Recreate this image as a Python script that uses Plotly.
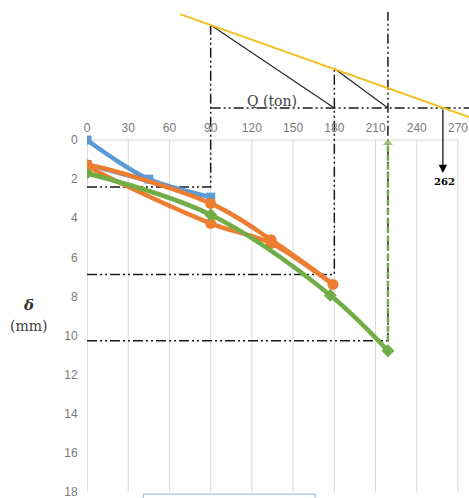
import plotly.graph_objects as go

# ---- data (Q in ton, settlement delta in mm) ----
q_ticks = [0, 30, 60, 90, 120, 150, 180, 210, 240, 270]
d_ticks = [0, 2, 4, 6, 8, 10, 12, 14, 16, 18]

blue_q = [0, 45, 90, 0]
blue_d = [0, 2.0, 2.92, 1.25]

orange_q = [0, 90, 134, 179, 134, 90, 0]
orange_d = [1.28, 3.24, 5.1, 7.38, 5.28, 4.26, 1.28]

green_q = [0, 90, 177, 219]
green_d = [1.7, 3.82, 7.93, 10.77]

# construction (Mazurkiewicz) lines
ref_q = [90, 180, 219]          # loads at equal settlements
ref_d = [2.4, 6.87, 10.26]      # equal settlement levels
ref_top = [-5.88, -3.66, -6.55] # top ends of the vertical projections
base_d = -1.64                  # horizontal load reference line
yellow_q = [67.7, 278]
yellow_d = [-6.44, -1.18]
diag1_q = [90, 180]
diag1_d = [-5.88, base_d]
diag2_q = [180, 219]
diag2_d = [-3.66, base_d]
q_ult_pos = 259
q_ult_label = "262"

X_MAX = 278
Y_TOP = -7.16
Y_BOT = 18.30

fig = go.Figure()

dashdot = "10px,3px,2px,3px,2px,3px"
for q, d, t in zip(ref_q, ref_d, ref_top):
    fig.add_trace(go.Scatter(x=[0, q, q], y=[d, d, t], mode="lines",
                             line=dict(color="#1a1a1a", width=1.5, dash=dashdot),
                             hoverinfo="skip"))
fig.add_trace(go.Scatter(x=[ref_q[0], X_MAX], y=[base_d, base_d], mode="lines",
                         line=dict(color="#1a1a1a", width=1.5, dash=dashdot)))
fig.add_trace(go.Scatter(x=diag1_q, y=diag1_d, mode="lines",
                         line=dict(color="#262626", width=1.2)))
fig.add_trace(go.Scatter(x=diag2_q, y=diag2_d, mode="lines",
                         line=dict(color="#262626", width=1.2)))
fig.add_trace(go.Scatter(x=yellow_q, y=yellow_d, mode="lines",
                         line=dict(color="#F5BE1E", width=2)))

# data series
fig.add_trace(go.Scatter(x=blue_q, y=blue_d, mode="lines+markers",
                         line=dict(color="#5B9BD5", width=4.5, shape="spline"),
                         marker=dict(symbol="square", size=9, color="#5B9BD5")))
fig.add_trace(go.Scatter(x=orange_q, y=orange_d, mode="lines+markers",
                         line=dict(color="#ED7D31", width=4.5, shape="spline"),
                         marker=dict(symbol="circle", size=11, color="#ED7D31")))
fig.add_trace(go.Scatter(x=green_q, y=green_d, mode="lines+markers",
                         line=dict(color="#70AD47", width=4.5, shape="spline"),
                         marker=dict(symbol="diamond", size=10, color="#70AD47")))

# green dashed arrow at the last load
fig.add_trace(go.Scatter(x=[ref_q[2], ref_q[2]], y=[ref_d[2], 0.15], mode="lines+markers",
                         line=dict(color="#70AD47", width=2.5, dash="6px,3px"),
                         marker=dict(symbol=["circle", "triangle-up"], size=[0, 10],
                                     color="#70AD47")))

shapes = []
for q in q_ticks:
    shapes.append(dict(type="line", xref="x", yref="y", x0=q, x1=q, y0=0, y1=d_ticks[-1],
                       line=dict(color="#BFBFBF" if q == 0 else "#D9D9D9", width=1),
                       layer="below"))
shapes.append(dict(type="line", xref="x", yref="y", x0=0, x1=q_ticks[-1], y0=0, y1=0,
                   line=dict(color="#D9D9D9", width=1), layer="below"))
shapes.append(dict(type="rect", xref="x", yref="y", x0=41, x1=166, y0=18.1, y1=19,
                   line=dict(color="#A9C4DE", width=1.2), fillcolor="white", layer="above"))

annotations = [
    dict(x=q_ult_pos, y=1.69, ax=q_ult_pos, ay=base_d, xref="x", yref="y",
         axref="x", ayref="y", text="", showarrow=True, arrowhead=2, arrowsize=1.4,
         arrowwidth=1.2, arrowcolor="#000000", standoff=0, startstandoff=0),
    dict(x=q_ult_pos + 1, y=2.1, xref="x", yref="y", text="<b>" + q_ult_label + "</b>",
         showarrow=False, font=dict(family="DejaVu Serif", size=10, color="#000000")),
    dict(x=134.5, y=-1.98, xref="x", yref="y", text="Q (ton)", showarrow=False,
         font=dict(family="DejaVu Serif", size=14, color="#404040")),
    dict(x=28, y=305, text="<b><i>δ</i></b>",
         showarrow=False, font=dict(family="DejaVu Serif", size=15, color="#333333")),
    dict(x=28, y=326, text="(mm)",
         showarrow=False, font=dict(family="DejaVu Serif", size=14, color="#404040")),
]
W, H, L = 469, 498, 87
for a in annotations[3:]:
    a["xref"] = "paper"
    a["yref"] = "paper"
    a["x"] = (a["x"] - L) / (W - L)
    a["y"] = 1 - a["y"] / H
    a["xanchor"] = "center"
    a["yanchor"] = "middle"

fig.update_layout(
    width=W, height=H,
    margin=dict(l=L, r=0, t=0, b=0),
    paper_bgcolor="white", plot_bgcolor="white",
    showlegend=False,
    shapes=shapes,
    annotations=annotations,
    xaxis=dict(range=[0, X_MAX], tickvals=q_ticks, showgrid=False, zeroline=False,
               showline=False, side="top", anchor="free",
               position=Y_BOT / (Y_BOT - Y_TOP),
               ticks="outside", ticklen=3, tickcolor="rgba(0,0,0,0)",
               tickfont=dict(family="Liberation Sans", size=12, color="#7a7a7a")),
    yaxis=dict(range=[Y_BOT, Y_TOP], tickvals=d_ticks, showgrid=False, zeroline=False,
               showline=False, ticks="outside", ticklen=6, tickcolor="rgba(0,0,0,0)",
               ticklabeloverflow="allow",
               tickfont=dict(family="Liberation Sans", size=12, color="#7a7a7a")),
)

fig.write_html("out.html", config={"displayModeBar": False},
               post_script="document.body.style.margin='0';document.body.style.overflow='hidden';")
